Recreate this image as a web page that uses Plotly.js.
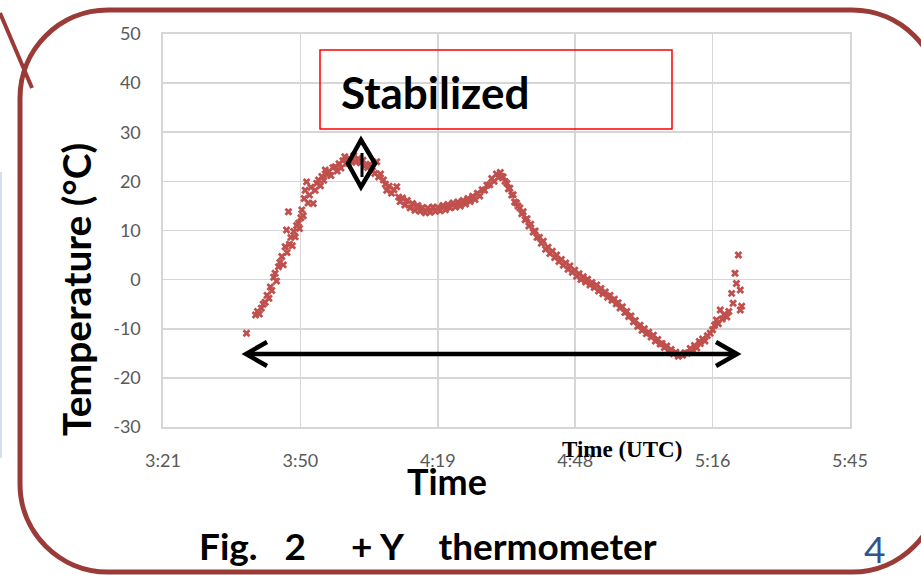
<!DOCTYPE html>
<html><head><meta charset="utf-8">
<script src="https://cdn.plot.ly/plotly-3.0.1.min.js"></script>
<style>html,body{margin:0;padding:0;background:#fff}#chart{width:921px;height:575px}</style>
</head><body><div id="chart"></div>
<script>
// ---- data (time in minutes after 00:00 UTC, temperature in °C) ----
const timeMin = [
 219.1,221.0,221.4,221.8,222.2,222.6,223.0,223.4,223.8,224.1,
 224.4,224.8,225.1,225.4,225.8,226.1,226.5,226.8,227.2,227.5,
 227.6,227.9,228.1,228.4,228.7,229.0,229.3,229.6,230.0,230.2,
 230.5,230.7,231.0,231.2,231.4,231.7,232.0,232.3,232.6,233.1,
 233.5,233.8,234.2,234.6,234.9,235.3,235.6,236.0,236.4,236.8,
 237.2,237.7,238.1,238.5,238.9,239.3,239.7,240.1,240.4,240.8,
 241.2,241.6,242.0,242.5,243.0,243.5,244.0,244.5,245.0,245.5,
 246.0,246.4,246.8,247.2,247.8,248.2,248.5,249.0,249.5,250.0,
 250.6,251.0,251.3,251.8,252.3,252.8,253.4,253.9,254.4,255.0,
 255.5,256.0,256.6,257.1,257.6,258.2,258.7,259.2,259.7,260.3,
 260.8,261.3,261.8,262.4,262.9,263.4,263.9,264.5,265.0,265.5,
 266.0,266.5,267.0,267.5,268.0,268.5,269.0,269.5,270.1,270.5,
 271.0,271.5,271.9,272.3,272.6,272.9,273.3,273.7,274.0,274.3,
 274.7,275.0,275.3,275.7,276.0,276.4,276.8,277.1,277.5,277.9,
 278.3,278.7,279.2,279.6,280.0,280.5,280.9,281.3,281.8,282.3,
 282.7,283.2,283.7,284.1,284.6,285.1,285.5,286.0,286.5,286.9,
 287.4,287.9,288.3,288.8,289.2,289.7,290.2,290.6,291.1,291.5,
 292.0,292.5,292.9,293.4,293.8,294.3,294.8,295.3,295.7,296.2,
 296.6,297.0,297.4,297.9,298.4,298.8,299.2,299.7,300.2,300.6,
 301.1,301.6,302.0,302.5,302.9,303.4,303.9,304.4,304.8,305.3,
 305.8,306.2,306.7,307.2,307.6,308.1,308.6,309.1,309.6,310.0,
 310.5,311.0,311.5,312.1,312.6,313.0,313.5,314.0,314.2,314.7,
 315.2,315.7,316.3,316.8,317.2,317.6,318.0,318.4,318.8,319.2,
 319.8,320.2,320.8,321.1,321.5,321.8,322.2,322.6,322.6,322.9
];
const tempC = [
 -10.9,-7.2,-6.5,-7.0,-5.8,-5.0,-4.6,-3.2,-3.8,-1.5,
 -2.2,0.5,1.3,-0.3,2.6,3.5,4.7,3.0,6.7,10.1,
 5.5,13.8,7.2,8.6,6.9,9.8,8.7,11.0,11.5,10.4,
 12.6,14.2,13.0,16.5,18.2,19.9,15.6,17.2,18.8,15.5,
 18.2,19.6,20.3,19.1,21.0,20.2,22.3,21.4,22.0,21.2,
 22.8,23.0,22.1,23.6,22.7,24.2,25.0,23.8,23.7,24.5,
 23.9,25.2,24.0,24.6,23.8,24.3,23.2,22.8,23.5,22.1,
 21.6,24.0,20.9,21.5,20.3,19.4,18.2,19.0,17.6,18.3,
 18.9,16.8,15.9,16.6,15.2,16.1,14.6,15.5,14.1,15.1,
 13.9,14.7,13.6,14.6,13.7,14.8,13.9,14.7,14.0,15.1,
 14.2,15.3,14.6,15.6,14.8,15.8,15.0,16.1,15.4,16.5,
 15.9,17.0,16.3,17.6,17.0,18.3,18.2,19.2,19.3,20.6,
 20.0,21.5,20.8,21.8,21.0,20.9,20.0,19.6,18.5,18.6,
 17.2,17.3,15.8,15.6,15.0,14.6,13.4,13.8,12.2,12.4,
 10.9,11.3,9.7,9.9,8.6,8.6,7.4,7.8,6.2,6.6,
 5.3,5.8,4.5,5.0,3.7,4.1,2.9,3.4,2.1,2.8,
 1.5,1.9,0.7,1.2,0.0,0.6,-0.5,0.1,-1.1,-0.6,
 -1.6,-1.1,-2.3,-1.8,-2.9,-2.5,-3.6,-3.2,-4.2,-4.0,
 -4.9,-4.7,-5.8,-5.5,-6.7,-6.5,-7.5,-7.4,-8.6,-8.3,
 -9.5,-9.3,-10.3,-10.0,-11.0,-10.7,-11.7,-11.3,-12.5,-12.2,
 -13.1,-13.0,-13.8,-13.5,-14.5,-14.2,-15.1,-14.8,-15.6,-15.2,
 -15.4,-14.9,-15.0,-14.0,-14.4,-13.4,-13.9,-12.6,-13.0,-12.1,
 -12.5,-11.4,-10.9,-10.2,-9.3,-8.2,-9.0,-6.2,-8.0,-7.1,
 -7.6,-6.5,-2.8,-4.8,1.3,-0.8,5.0,-6.2,-2.1,-5.4
];
const xTickVals = [201.6, 230.4, 259.2, 288.0, 316.8, 345.6];
const xTickText = ["3:21","3:50","4:19","4:48","5:16","5:45"];
const yTickVals = [-30,-20,-10,0,10,20,30,40,50];
const yTickText = ["-30","-20","-10","0","10","20","30","40","50"];

// ---- layout helpers (page pixels -> paper fraction) ----
const L=163, R=850, T=34, B=427;
const px = x => (x-L)/(R-L);
const py = y => (B-y)/(B-T);
const pt = (x,y) => px(x)+','+py(y);

function roundRect(x0,y0,x1,y1,r){
  const k=0.5523*r;
  return 'M'+pt(x0+r,y0)+' L'+pt(x1-r,y0)+
    ' C'+pt(x1-r+k,y0)+' '+pt(x1,y0+r-k)+' '+pt(x1,y0+r)+
    ' L'+pt(x1,y1-r)+
    ' C'+pt(x1,y1-r+k)+' '+pt(x1-r+k,y1)+' '+pt(x1-r,y1)+
    ' L'+pt(x0+r,y1)+
    ' C'+pt(x0+r-k,y1)+' '+pt(x0,y1-r+k)+' '+pt(x0,y1-r)+
    ' L'+pt(x0,y0+r)+
    ' C'+pt(x0,y0+r-k)+' '+pt(x0+r-k,y0)+' '+pt(x0+r,y0)+' Z';
}
const border='#9b3b38';
const shapes = [
  {type:'path', xref:'paper', yref:'paper', path: roundRect(20,10,940,572,88), line:{color:border,width:5}},
  {type:'line', xref:'paper', yref:'paper', x0:px(0), y0:py(13), x1:px(32), y1:py(88), line:{color:border,width:4}},
  {type:'line', xref:'paper', yref:'paper', x0:px(1), y0:py(172), x1:px(1), y1:py(458), line:{color:'#d3deee',width:2}},
  {type:'rect', xref:'paper', yref:'paper', x0:px(320), y0:py(50), x1:px(672), y1:py(129), line:{color:'#ff0000',width:1.5}},
  {type:'path', xref:'paper', yref:'paper', path:'M'+pt(361,140)+' L'+pt(375,163.5)+' L'+pt(361,187)+' L'+pt(348,163.5)+' Z', line:{color:'#000',width:4.5}},
  {type:'line', xref:'paper', yref:'paper', x0:px(362), y0:py(153), x1:px(362), y1:py(177), line:{color:'#000',width:3}},
  {type:'line', xref:'paper', yref:'paper', x0:px(248), y0:py(354), x1:px(735), y1:py(354), line:{color:'#000',width:4.5}},
  {type:'path', xref:'paper', yref:'paper', path:'M'+pt(267,342)+' L'+pt(246,354)+' L'+pt(267,366), line:{color:'#000',width:4.5}},
  {type:'path', xref:'paper', yref:'paper', path:'M'+pt(716,342)+' L'+pt(737,354)+' L'+pt(716,366), line:{color:'#000',width:4.5}}
];

const F='Lato, "Open Sans", sans-serif';
const nb='\u00a0';
const sp = n => nb.repeat(n);
const annotations = [
  {text:'<b>Temperature (°C)</b>', xref:'paper', yref:'paper', x:px(76), y:py(290), textangle:-90, showarrow:false, xanchor:'center', yanchor:'middle', font:{family:F,size:39,color:'#000'}},
  {text:'<b>Time</b>', xref:'paper', yref:'paper', x:px(447), y:py(481), showarrow:false, xanchor:'center', yanchor:'middle', font:{family:F,size:36,color:'#000'}},
  {text:'<b>Time (UTC)</b>', xref:'paper', yref:'paper', x:px(622), y:py(450), showarrow:false, xanchor:'center', yanchor:'middle', font:{family:'"Liberation Serif", "Times New Roman", serif',size:23,color:'#000'}},
  {text:'<b>Fig.'+sp(3)+'2'+sp(5)+'+'+nb+'Y'+sp(4)+'thermometer</b>', xref:'paper', yref:'paper', x:px(428), y:py(545), showarrow:false, xanchor:'center', yanchor:'middle', font:{family:F,size:37,color:'#000'}},
  {text:'4', xref:'paper', yref:'paper', x:px(874), y:py(548), showarrow:false, xanchor:'center', yanchor:'middle', font:{family:F,size:37,color:'#2e538f'}},
  {text:'<b>Stabilized</b>', xref:'paper', yref:'paper', x:px(339), y:py(92), showarrow:false, xanchor:'left', yanchor:'middle', font:{family:F,size:44,color:'#000'}}
];

const axisCommon = {
  showgrid:true, gridcolor:'#d6d6d6', gridwidth:1.6, zeroline:false,
  showline:true, mirror:true, linecolor:'#d6d6d6', linewidth:1.6,
  ticks:'outside', tickcolor:'rgba(0,0,0,0)',
  tickfont:{family:F, size:18, color:'#595959'}, fixedrange:true
};

const trace = {
  type:'scatter', mode:'markers', x:timeMin, y:tempC,
  marker:{symbol:'x', size:7, color:'#c0504d', line:{width:0}},
  hoverinfo:'x+y'
};

const layout = {
  width:921, height:575,
  margin:{l:L, r:921-R, t:T, b:575-B, pad:0},
  paper_bgcolor:'#ffffff', plot_bgcolor:'#ffffff',
  showlegend:false,
  xaxis: Object.assign({}, axisCommon, {range:[201.6,345.6], tickmode:'array', tickvals:xTickVals, ticktext:xTickText, ticklen:17}),
  yaxis: Object.assign({}, axisCommon, {range:[-30,50], tickmode:'array', tickvals:yTickVals, ticktext:yTickText, ticklen:17}),
  shapes: shapes,
  annotations: annotations
};

Plotly.newPlot('chart', [trace], layout, {displayModeBar:false, staticPlot:true});
</script>
</body></html>
